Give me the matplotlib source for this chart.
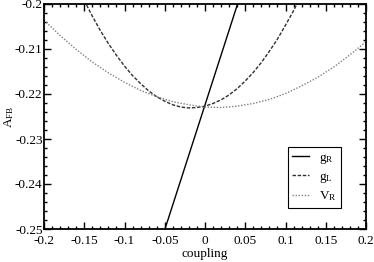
import matplotlib
matplotlib.use("Agg")
import matplotlib.pyplot as plt
from matplotlib.ticker import MultipleLocator

plt.rcParams['font.family'] = ['Liberation Serif', 'DejaVu Serif']
plt.rcParams['mathtext.fontset'] = 'custom'
plt.rcParams['mathtext.rm'] = 'Liberation Serif'
plt.rcParams['mathtext.it'] = 'Liberation Serif'

# g_R (solid)
gR_x = [-0.06, 0.05]
gR_y = [-0.2557, -0.1947]

# g_L (dashed)
gL_x = [-0.15, -0.14, -0.13, -0.12, -0.11, -0.10, -0.09, -0.08, -0.07, -0.06, -0.05, -0.04, -0.03,
        -0.02, -0.01, 0.00, 0.01, 0.02, 0.03, 0.04, 0.05, 0.06, 0.07, 0.08, 0.09, 0.10, 0.11, 0.12]
gL_y = [-0.1992, -0.2027, -0.2059, -0.2088, -0.2114, -0.2138, -0.2159, -0.2177, -0.2193,
        -0.2206, -0.2216, -0.2224, -0.2229, -0.2231, -0.2230, -0.2227, -0.2221, -0.2213,
        -0.2202, -0.2188, -0.2171, -0.2152, -0.2130, -0.2105, -0.2078, -0.2047, -0.2015, -0.1979]

# V_R (dotted)
vR_x = [-0.20, -0.18, -0.16, -0.14, -0.12, -0.10, -0.08, -0.06, -0.04, -0.02, 0.00,
        0.02, 0.04, 0.06, 0.08, 0.10, 0.12, 0.14, 0.16, 0.18, 0.20]
vR_y = [-0.2036, -0.2070, -0.2101, -0.2129, -0.2153, -0.2174, -0.2192, -0.2206, -0.2217,
        -0.2224, -0.2229, -0.2230, -0.2227, -0.2221, -0.2212, -0.2199, -0.2182, -0.2163,
        -0.2140, -0.2113, -0.2084]

xticks = [-0.2, -0.15, -0.1, -0.05, 0, 0.05, 0.1, 0.15, 0.2]
xticklabels = ['-0.2', '-0.15', '-0.1', '-0.05', '0', '0.05', '0.1', '0.15', '0.2']
yticks = [-0.25, -0.24, -0.23, -0.22, -0.21, -0.2]
yticklabels = ['-0.25', '-0.24', '-0.23', '-0.22', '-0.21', '-0.2']

W, H = 374, 262
fig = plt.figure(figsize=(W / 100, H / 100), dpi=100)
ax = fig.add_axes([44 / W, (H - 229) / H, 322 / W, 225 / H])

ax.plot(gR_x, gR_y, color='black', lw=1.0, label=r'g$_\mathregular{R}$')
ax.plot(gL_x, gL_y, color='#303030', lw=1.0, linestyle=(0, (2.5, 1.2)), label=r'g$_\mathregular{L}$')
ax.plot(vR_x, vR_y, color='#808080', lw=1.0, linestyle=(0, (1, 1.2)), label=r'V$_\mathregular{R}$')

ax.set_xlim(-0.2, 0.2)
ax.set_ylim(-0.25, -0.2)
ax.set_xticks(xticks)
ax.set_xticklabels(xticklabels)
ax.set_yticks(yticks)
ax.set_yticklabels(yticklabels)
ax.xaxis.set_minor_locator(MultipleLocator(0.01))
ax.yaxis.set_minor_locator(MultipleLocator(0.002))
ax.tick_params(which='both', direction='in', top=True, right=True, labelsize=9.5, width=1.0)
ax.tick_params(which='major', length=5)
ax.tick_params(which='minor', length=2.5)
ax.tick_params(axis='x', which='major', pad=4)
ax.tick_params(axis='y', which='major', pad=1)
for s in ax.spines.values():
    s.set_linewidth(1.3)

ax.set_xlabel('coupling', fontsize=9.5, labelpad=1)
fig.text(2 / W, (H - 117) / H, r'A$_\mathregular{FB}$', fontsize=9.5, rotation=90,
         ha='left', va='center')

leg = ax.legend(loc='lower right', bbox_to_anchor=((341 - 44) / 322, 21 / 225), fontsize=9.5,
                frameon=True, fancybox=False, edgecolor='black', framealpha=1,
                handlelength=1.3, handletextpad=0.7, borderpad=0.35, labelspacing=0.35,
                borderaxespad=0)
leg.get_frame().set_linewidth(0.8)

fig.savefig('out.png', dpi=100)
